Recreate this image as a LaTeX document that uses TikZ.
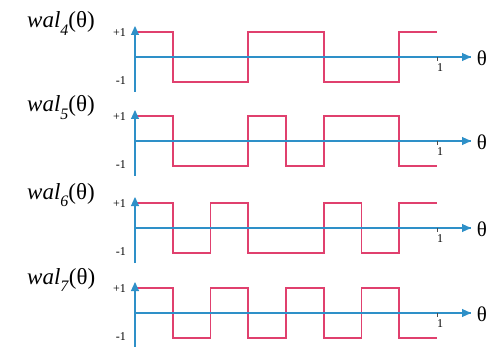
\documentclass[tikz,border=0pt]{standalone}
\usepackage{fontspec}
\setmainfont{Liberation Serif}
\usetikzlibrary{arrows.meta}
\definecolor{wave}{HTML}{E0406E}
\definecolor{axisc}{HTML}{2E90C8}
\tikzset{
  wavestyle/.style={draw=wave,line width=1.7pt,line join=miter},
  axisstyle/.style={draw=axisc,line width=1.1pt},
  arr/.style={axisstyle,-{Triangle[length=9pt,width=8pt]}},
  fname/.style={font=\fontsize{23}{26}\selectfont,anchor=base west,inner sep=0pt},
  lvl/.style={font=\fontsize{12}{14}\selectfont,anchor=east,inner sep=0pt},
  thetalbl/.style={font=\fontsize{21}{24}\selectfont,inner sep=0pt},
  onelbl/.style={font=\fontsize{12}{14}\selectfont,inner sep=0pt}
}
\newcommand{\walname}[1]{\textit{wal}\raisebox{-0.33em}{\fontsize{16}{18}\selectfont\textit{#1}}(θ)}
\begin{document}
\begin{tikzpicture}[x=1pt,y=-1pt]
\useasboundingbox (0,0) rectangle (486,347);
\foreach \Y/\n/\wpath in {
  57/4/{(0,0) -- (0,1) -| (1,-1) -| (3,1) -| (5,-1) -| (7,1) -- (8,1)},
  141/5/{(0,0) -- (0,1) -| (1,-1) -| (3,1) -| (4,-1) -| (5,1) -| (7,-1) -- (8,-1)},
  228/6/{(0,0) -- (0,1) -| (1,-1) -| (2,1) -| (3,-1) -| (5,1) -| (6,-1) -| (7,1) -- (8,1)},
  313/7/{(0,0) -- (0,1) -| (1,-1) -| (2,1) -| (3,-1) -| (4,1) -| (5,-1) -| (6,1) -| (7,-1) -- (8,-1)}}{
  \begin{scope}[shift={(135,\Y)}]
    \coordinate (o\n) at (0,0);
    \coordinate (vb\n) at (0,35);
    \coordinate (vt\n) at (0,-31);
    \coordinate (he\n) at (336,0);
    \draw[axisstyle] (o\n) -- (he\n);
    \begin{scope}[x=37.75pt,y=25pt]
      \draw[wavestyle] \wpath;
    \end{scope}
    \draw[arr] (vb\n) -- (vt\n);
    \draw[arr] (o\n) -- (he\n);
    \coordinate (tk\n) at (302,0);
    \draw[black!70,line width=0.8pt] (tk\n) -- ++(0,4);
    \node[onelbl] (one\n) at (305,11) {1};
    \node[thetalbl] (th\n) at (347,1) {θ};
    \node[lvl] (p\n) at (-9,-24) {+1};
    \node[lvl] (m\n) at (-9,24) {-1};
    \node[fname] (f\n) at (-108,-29) {\walname{\n}};
  \end{scope}
}
\end{tikzpicture}
\end{document}
